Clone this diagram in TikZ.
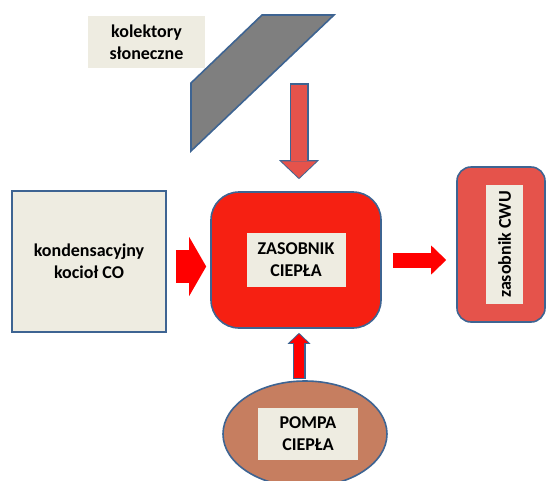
\documentclass[tikz,border=0pt]{standalone}
\usepackage{fontspec}
\setmainfont{Carlito}
\usetikzlibrary{arrows.meta,shapes.geometric}
\definecolor{edgeblue}{RGB}{62,100,146}
\definecolor{paper}{RGB}{238,236,225}
\definecolor{panel}{RGB}{127,127,127}
\definecolor{hot}{RGB}{246,32,18}
\definecolor{warm}{RGB}{229,83,75}
\definecolor{fire}{RGB}{255,0,0}
\definecolor{clay}{RGB}{198,126,96}

\begin{document}
\begin{tikzpicture}[x=1pt,y=-1pt]
\tikzstyle{every node}+=[inner sep=0pt, align=center, font=\fontsize{18}{22}\selectfont\bfseries]
\tikzstyle{tag}=[fill=paper]
\tikzstyle{plate}=[fill=paper, draw=edgeblue, line width=1.6pt]
\tikzstyle{tank}=[draw=edgeblue, line width=1.6pt]
\clip (0,0) rectangle (547,480);
\filldraw [fill=panel, draw=edgeblue, line width=1.6pt] (191,83) -- (262,15) -- (334,15) -- (191,151) -- cycle;
\node [tag, minimum width=117, minimum height=52] (kol) at (146.5,42) {kolektory\\słoneczne};
\node [plate, minimum width=154, minimum height=141] (kociol) at (89,261.5) {kondensacyjny\\kocioł CO};
\node [tank, fill=hot, rounded corners=28pt, minimum width=170, minimum height=136] (zas) at (296,260) {};
\node [tag, minimum width=99, minimum height=54] (zaslab) at (zas) {ZASOBNIK\\CIEPŁA};
\node [tank, fill=warm, rounded corners=14pt, minimum width=88, minimum height=155] (cwu) at (501,244.5) {};
\node [tag, rotate=90, minimum width=119, minimum height=37] (cwulab) at ([xshift=3.5pt]cwu.center) {zasobnik CWU};
\node [tank, ellipse, fill=clay, minimum width=164, minimum height=106] (pompa) at (305,434) {};
\node [tag, minimum width=100, minimum height=52] (pompalab) at ([xshift=3pt]pompa.center) {POMPA\\CIEPŁA};
\coordinate (sun) at (299,83);
\coordinate (kin) at ([yshift=-5pt]kociol.east);
\draw [edgeblue, line width=19pt, -{Triangle[length=19pt, width=40pt, line width'=0pt]}, shorten >=12pt] (sun) -- (sun |- zas.north);
\draw [warm, line width=16pt, -{Triangle[length=16.5pt, width=35pt, line width'=0pt]}, shorten <=1.5pt, shorten >=13.4pt] (sun) -- (sun |- zas.north);
\draw [fire, line width=33pt, -{Triangle[length=17pt, width=59pt, line width'=0pt]}, shorten <=9pt, shorten >=4pt] (kin) -- (kin -| zas.west);
\draw [fire, line width=15pt, -{Triangle[length=15pt, width=29pt, line width'=0pt]}, shorten <=11pt, shorten >=10pt] (zas.east) -- (cwu.west |- zas.east);
\draw [edgeblue, line width=13pt, -{Triangle[length=11pt, width=23pt, line width'=0pt]}, shorten <=1pt, shorten >=4pt] (pompa.north -| sun) -- (zas.south -| sun);
\draw [fire, line width=10pt, -{Triangle[length=8.6pt, width=18pt, line width'=0pt]}, shorten <=2.5pt, shorten >=5.4pt] (pompa.north -| sun) -- (zas.south -| sun);
\end{tikzpicture}
\end{document}
